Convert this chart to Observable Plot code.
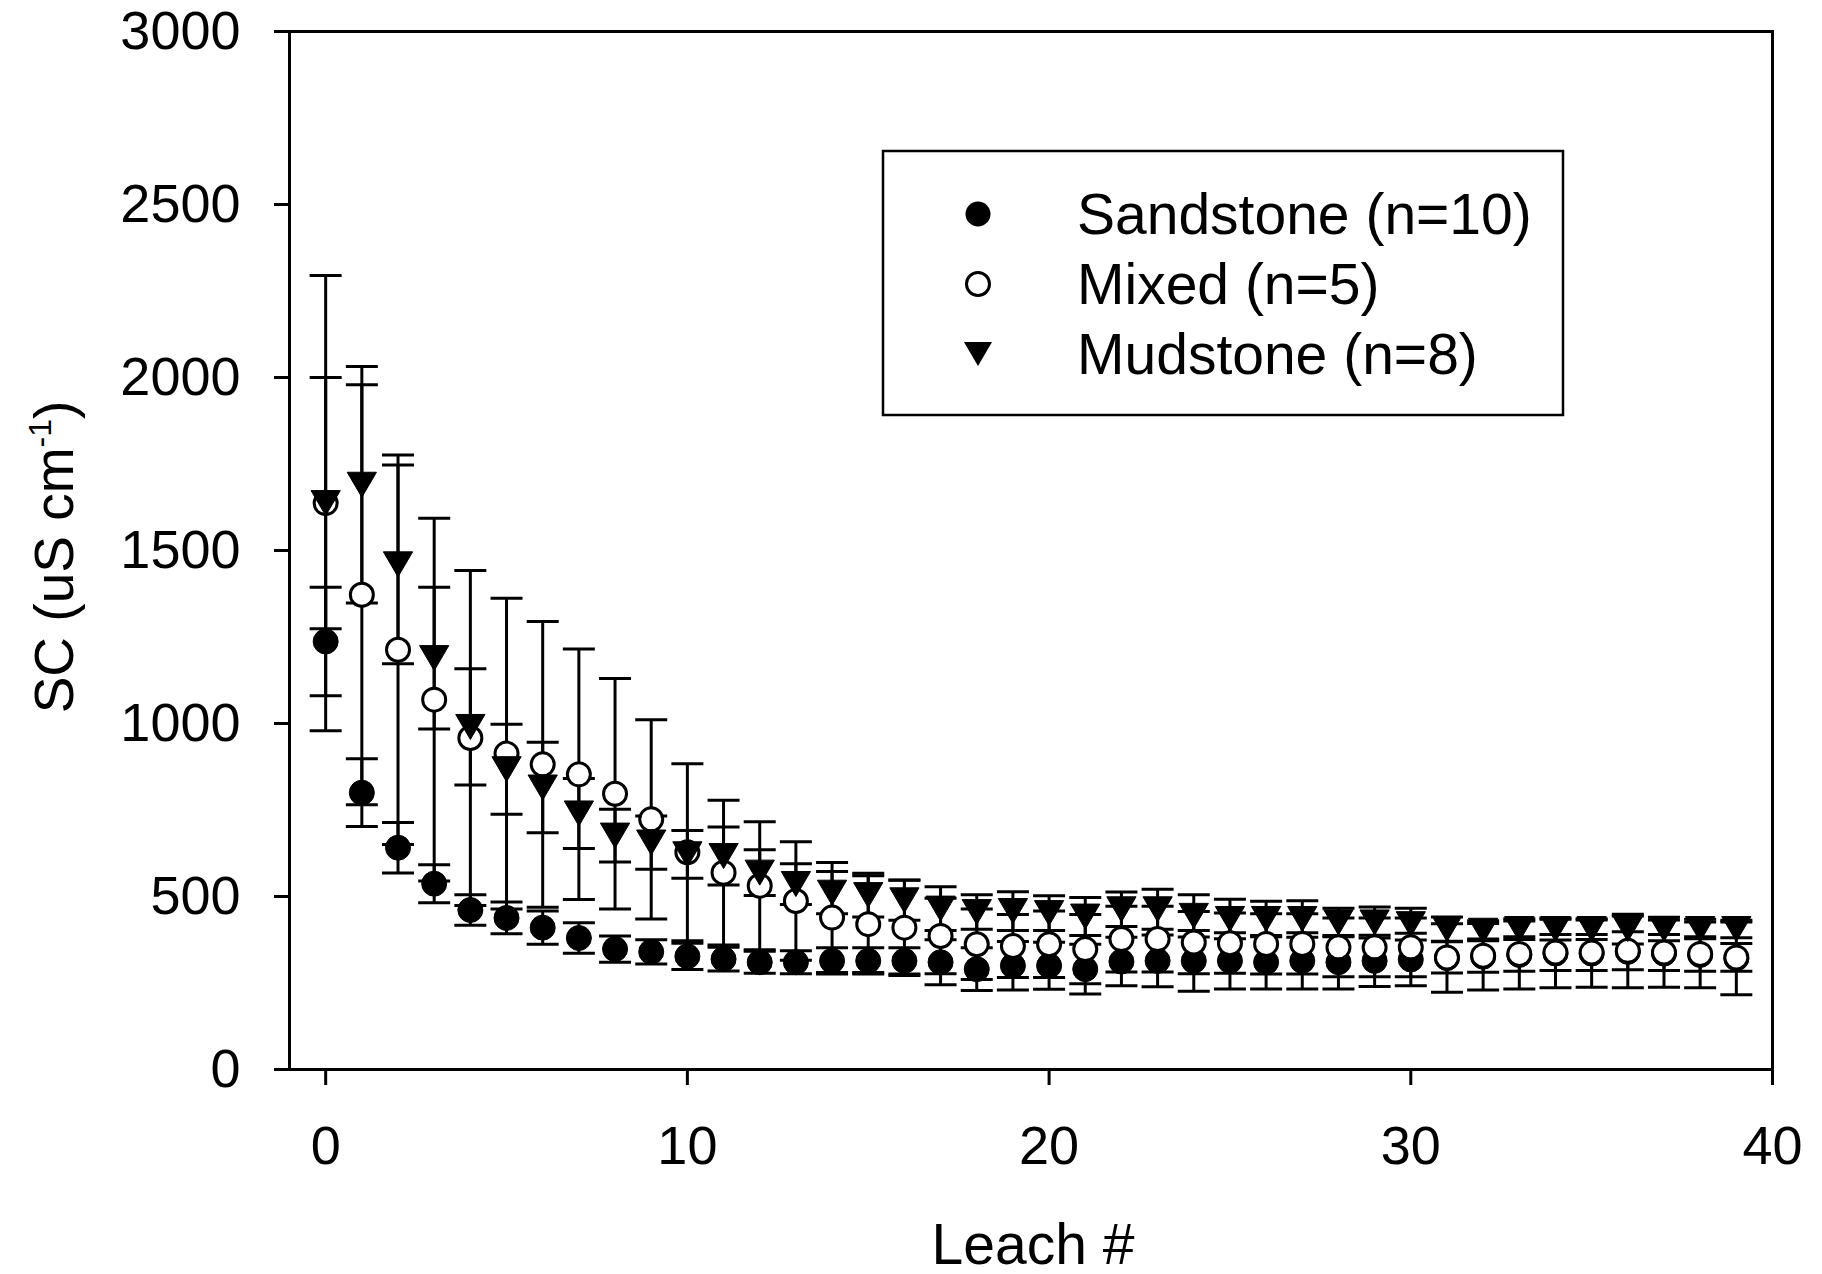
<!DOCTYPE html>
<html>
<head>
<meta charset="utf-8">
<script src="https://cdn.jsdelivr.net/npm/d3@7"></script>
<script src="https://cdn.jsdelivr.net/npm/@observablehq/plot@0.6"></script>
<style>
  html, body { margin: 0; padding: 0; background: #fff; overflow: hidden; }
  #chart { width: 1822px; height: 1274px; }
  #chart svg { overflow: visible; }
</style>
</head>
<body>
<div id="chart"></div>
<script>
// ---- data ----
const leach = [0,1,2,3,4,5,6,7,8,9,10,11,12,13,14,15,16,17,18,19,20,21,22,23,24,25,26,27,28,29,30,31,32,33,34,35,36,37,38,39];

const sandstoneMean = [1237,800,641,537,461,438,410,380,348,340,327,319,310,310,314,314,314,310,290,300,300,290,312,314,314,314,310,314,310,314,318,322,326,331,335,335,340,335,331,321];
const sandstoneSD   = [157,98,73,55,44,46,48,44,38,35,38,34,32,33,38,38,38,65,62,70,68,72,70,75,88,81,77,81,77,74,76,99,96,98,99,97,104,97,95,105];

const mixedMean = [1637,1372,1213,1069,958,913,882,853,797,723,628,569,531,487,439,420,410,386,362,357,362,348,377,377,367,365,363,363,353,353,353,324,329,334,338,338,343,338,334,324];
const mixedSD   = [363,607,563,524,484,449,413,362,333,288,256,209,185,171,159,140,138,109,102,91,96,100,95,95,90,87,87,87,85,85,85,45,48,50,52,52,55,52,50,40];

const mudstoneMean = [1637,1690,1460,1189,990,868,815,740,676,656,622,617,569,536,511,504,489,465,455,458,452,442,463,463,444,435,435,435,425,425,420,406,401,406,406,406,406,406,406,406];
const mudstoneSD   = [658,342,287,205,168,130,131,101,76,77,69,84,66,59,61,63,58,63,50,56,50,55,50,58,61,57,51,53,41,45,46,35,29,30,32,30,43,34,28,25];

const seriesNames = ["Sandstone (n=10)", "Mixed (n=5)", "Mudstone (n=8)"];
const xTicks = [0, 10, 20, 30, 40];
const yTicks = [0, 500, 1000, 1500, 2000, 2500, 3000];

// ---- table built from the arrays ----
function rowsFor(name, means, sds) {
  return leach.map((l, i) => ({leach: l, series: name, mean: means[i], sd: sds[i]}));
}
const S = rowsFor(seriesNames[0], sandstoneMean, sandstoneSD);
const M = rowsFor(seriesNames[1], mixedMean, mixedSD);
const D = rowsFor(seriesNames[2], mudstoneMean, mudstoneSD);
const all = [...S, ...M, ...D];

// custom symbols
const capSymbol = {
  draw(ctx, size) {
    const r = Math.sqrt(size / Math.PI);
    ctx.moveTo(-r, 0);
    ctx.lineTo(r, 0);
  }
};
const triDown = {
  draw(ctx, size) {
    const r = Math.sqrt(size / Math.PI);
    const w = r * 1.17;
    ctx.moveTo(-w, -r);
    ctx.lineTo(w, -r);
    ctx.lineTo(0, r);
    ctx.closePath();
  }
};

const FONT = "'Liberation Sans', Arial, Helvetica, sans-serif";

const chart = Plot.plot({
  width: 1822,
  height: 1274,
  marginLeft: 289,
  marginRight: 50,
  marginTop: 31,
  marginBottom: 205,
  style: {fontFamily: FONT, fontSize: "54px", color: "black", background: "white"},
  x: {domain: [-1, 40]},
  y: {domain: [0, 3000]},
  marks: [
    // error bars (all first)
    Plot.ruleX(all, {x: "leach", y1: d => d.mean - d.sd, y2: d => d.mean + d.sd, stroke: "black", strokeWidth: 3}),
    Plot.dot(all, {x: "leach", y: d => d.mean + d.sd, symbol: capSymbol, r: 16, stroke: "black", fill: "none", strokeWidth: 3}),
    Plot.dot(all, {x: "leach", y: d => d.mean - d.sd, symbol: capSymbol, r: 16, stroke: "black", fill: "none", strokeWidth: 3}),
    // symbols
    Plot.dot(S, {x: "leach", y: "mean", r: 12.5, fill: "black", stroke: "black", strokeWidth: 1}),
    Plot.dot(M, {x: "leach", y: "mean", r: 11.5, fill: "white", stroke: "black", strokeWidth: 3}),
    Plot.dot(D, {x: "leach", y: "mean", symbol: triDown, r: 12.5, fill: "black", stroke: "black", strokeWidth: 1}),
    // frame and axes
    Plot.frame({stroke: "black", strokeWidth: 3}),
    Plot.axisY({ticks: yTicks, tickSize: 15, tickPadding: 34, strokeWidth: 3, tickFormat: d3.format("d"), label: null, fontSize: 54, fill: "black"}),
    Plot.axisX({ticks: xTicks, tickSize: 16, tickPadding: 40, strokeWidth: 3, tickFormat: d3.format("d"), label: null, fontSize: 54, fill: "black"})
  ]
});

document.getElementById("chart").appendChild(chart);

// ---- titles and legend ----
const svg = d3.select(chart);
const yT = svg.append("text")
  .attr("transform", "translate(54,557) rotate(-90)")
  .attr("text-anchor", "middle")
  .attr("font-family", FONT)
  .attr("font-size", 55)
  .attr("fill", "black")
  .attr("dy", "0.35em");
yT.append("tspan").text("SC (uS cm");
yT.append("tspan").attr("font-size", 32).attr("dy", -22).text("-1");
yT.append("tspan").attr("dy", 22).text(")");

svg.append("text")
  .attr("x", 1033).attr("y", 1264)
  .attr("text-anchor", "middle")
  .attr("font-family", FONT)
  .attr("font-size", 57)
  .attr("fill", "black")
  .text("Leach #");

const lg = svg.append("g");
lg.append("rect").attr("x", 883).attr("y", 151).attr("width", 680).attr("height", 264)
  .attr("fill", "white").attr("stroke", "black").attr("stroke-width", 2.5);
const rowsY = [214, 284, 354];
lg.append("circle").attr("cx", 978).attr("cy", rowsY[0]).attr("r", 12.5).attr("fill", "black");
lg.append("circle").attr("cx", 978).attr("cy", rowsY[1]).attr("r", 11.5).attr("fill", "white").attr("stroke", "black").attr("stroke-width", 3);
lg.append("path").attr("transform", `translate(978,${rowsY[2]})`)
  .attr("d", d3.symbol(triDown, Math.PI * 144)()).attr("fill", "black");
seriesNames.forEach((n, i) => {
  lg.append("text").attr("x", 1077).attr("y", rowsY[i] + 20)
    .attr("text-anchor", "start")
    .attr("font-family", FONT).attr("font-size", 57).attr("fill", "black").text(n);
});
</script>
</body>
</html>
